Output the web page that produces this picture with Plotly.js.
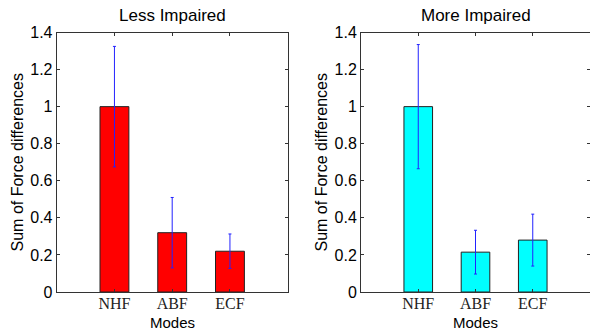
<!DOCTYPE html>
<html>
<head>
<meta charset="utf-8">
<script src="https://cdn.plot.ly/plotly-3.0.1.min.js"></script>
<style>
  html, body { margin: 0; padding: 0; background: #fff; }
  #chart { width: 590px; height: 332px; }
</style>
</head>
<body>
<div id="chart"></div>
<script>
const categories = [1, 2, 3];
const tickLabels = ['NHF', 'ABF', 'ECF'];
const lessImpaired = [1.0, 0.32, 0.22];
const lessImpairedErr = [0.325, 0.19, 0.093];
const moreImpaired = [1.0, 0.215, 0.28];
const moreImpairedErr = [0.335, 0.118, 0.14];
const panelTitles = ['Less Impaired', 'More Impaired'];
const yTitle = 'Sum of Force differences';
const xTitle = 'Modes';

const sans = 'Liberation Sans, Arial, sans-serif';
const serif = 'Liberation Serif, Times New Roman, serif';

function barTrace(vals, errs, color, xa, ya) {
  return {
    type: 'bar', x: categories, y: vals, xaxis: xa, yaxis: ya,
    width: 0.5,
    marker: { color: color, line: { color: '#222', width: 1 } },
    error_y: { type: 'data', array: errs, visible: true, color: '#2222ff', thickness: 1, width: 1.5 },
    showlegend: false, hoverinfo: 'none'
  };
}

const data = [
  barTrace(lessImpaired, lessImpairedErr, '#ff0000', 'x', 'y'),
  barTrace(moreImpaired, moreImpairedErr, '#00ffff', 'x2', 'y2')
];

function xAxis(domain, anchor) {
  return {
    domain: domain, anchor: anchor, range: [0, 4],
    tickmode: 'array', tickvals: categories, ticktext: tickLabels,
    ticks: 'inside', ticklen: 3, tickcolor: '#333', mirror: 'ticks',
    ticklabelstandoff: -3,
    showline: true, linecolor: '#333', linewidth: 1, showgrid: false, zeroline: false,
    tickfont: { family: serif, size: 16, color: '#222' },
    fixedrange: true
  };
}
function yAxis(domain, anchor) {
  return {
    domain: domain, anchor: anchor, range: [0, 1.4],
    tickvals: [0, 0.2, 0.4, 0.6, 0.8, 1, 1.2, 1.4],
    ticktext: ['0', '0.2', '0.4', '0.6', '0.8', '1', '1.2', '1.4'],
    ticks: 'inside', ticklen: 3, tickcolor: '#333', mirror: 'ticks',
    showline: true, linecolor: '#333', linewidth: 1, showgrid: false, zeroline: false,
    tickfont: { family: sans, size: 16, color: '#000' },
    title: { text: yTitle, font: { family: sans, size: 16, color: '#000' }, standoff: 2 },
    fixedrange: true
  };
}

const yDom = [40 / 332, (332 - 32.5) / 332];
const centers = [(56.7 + 287.7) / 2 / 590, (361 + 590) / 2 / 590];
function note(text, x, yPx, size) {
  return { text: text, x: x, y: 1 - yPx / 332, xref: 'paper', yref: 'paper',
    showarrow: false, xanchor: 'center', yanchor: 'middle',
    font: { family: sans, size: size, color: '#000' } };
}
const layout = {
  width: 590, height: 332,
  margin: { l: 0, r: 0, t: 0, b: 0 },
  paper_bgcolor: '#fff', plot_bgcolor: '#fff',
  xaxis: xAxis([56.7 / 590, 287.7 / 590], 'y'),
  yaxis: yAxis(yDom, 'x'),
  xaxis2: xAxis([361 / 590, 1.0], 'y2'),
  yaxis2: yAxis(yDom, 'x2'),
  annotations: [
    note(panelTitles[0], centers[0], 15, 17),
    note(panelTitles[1], centers[1], 15, 17),
    note(xTitle, centers[0], 322, 15),
    note(xTitle, centers[1], 322, 15)
  ]
};

Plotly.newPlot('chart', data, layout, { displayModeBar: false, staticPlot: true });
</script>
</body>
</html>
